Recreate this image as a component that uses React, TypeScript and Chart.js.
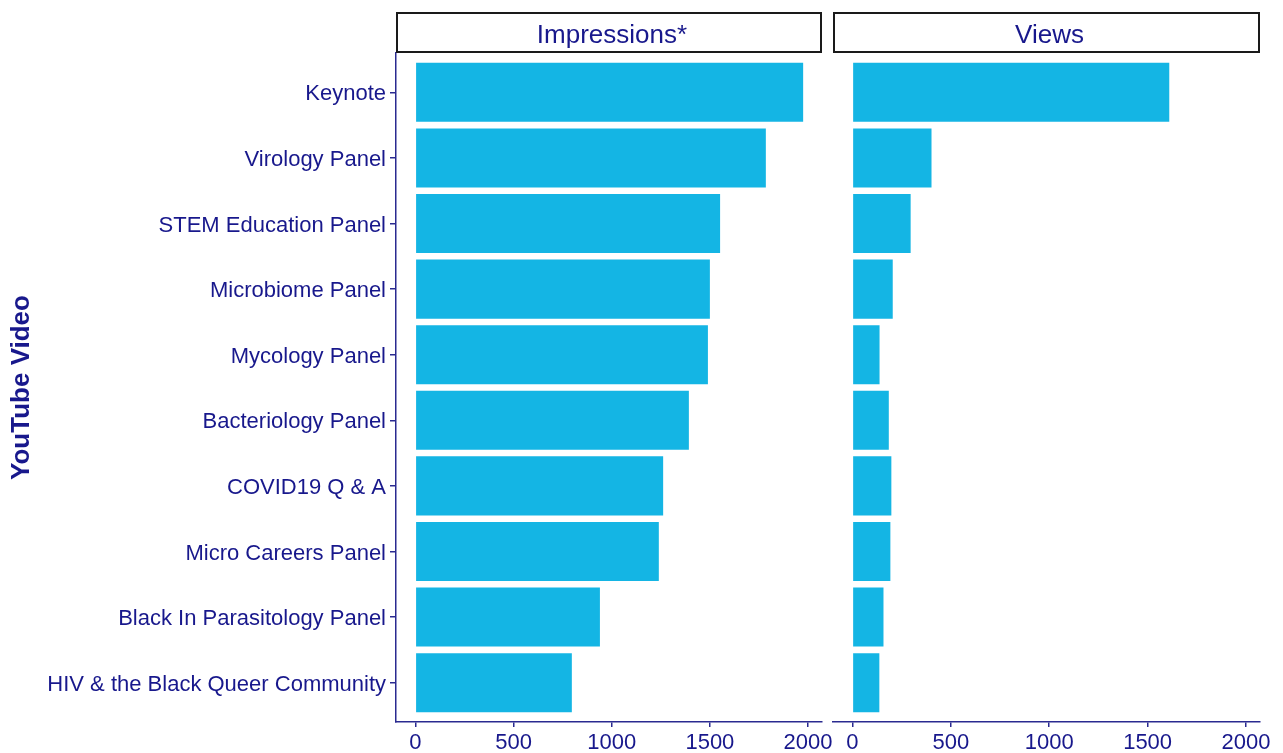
import React, { useEffect, useRef } from "react";
import { Chart, registerables } from "chart.js";

Chart.register(...registerables);

const videos = [
  "Keynote",
  "Virology Panel",
  "STEM Education Panel",
  "Microbiome Panel",
  "Mycology Panel",
  "Bacteriology Panel",
  "COVID19 Q & A",
  "Micro Careers Panel",
  "Black In Parasitology Panel",
  "HIV & the Black Queer Community",
];
const impressions = [1975, 1785, 1552, 1500, 1490, 1393, 1262, 1240, 940, 797];
const views = [1610, 402, 296, 205, 138, 185, 198, 193, 158, 137];
const panelTitles = ["Impressions*", "Views"];
const xTicks = [0, 500, 1000, 1500, 2000];
const yTitle = "YouTube Video";

const NAVY = "#18188c";
const AXIS = "#2a2a90";
const BAR = "#14b5e4";
const FONT = "'Liberation Sans', Arial, sans-serif";

const X_MIN = -98.5;
const X_MAX = 2071;
const Y_MIN = -0.6;
const Y_MAX = videos.length - 1 + 0.6;

const stripPlugin = {
  id: "facetStrip",
  afterDraw(chart: any, _args: any, opts: any) {
    const { ctx, chartArea } = chart;
    ctx.save();
    const x = chartArea.left;
    const w = chartArea.right - chartArea.left;
    ctx.fillStyle = "#ffffff";
    ctx.fillRect(x, 12, w, 40);
    ctx.strokeStyle = "#1a1a1a";
    ctx.lineWidth = 2;
    ctx.strokeRect(x + 1, 13, w - 2, 39);
    ctx.fillStyle = NAVY;
    ctx.font = `26px ${FONT}`;
    ctx.textAlign = "center";
    ctx.textBaseline = "alphabetic";
    ctx.fillText(opts.text, x + w / 2 + 3, 43);
    ctx.restore();
  },
};

function makeConfig(values: number[], title: string, showY: boolean): any {
  return {
    type: "bar",
    data: {
      datasets: [
        {
          data: values.map((v, i) => ({ x: v, y: i })),
          backgroundColor: BAR,
          borderWidth: 0,
          barPercentage: 0.9,
          categoryPercentage: 1,
        },
      ],
    },
    options: {
      indexAxis: "y",
      responsive: false,
      maintainAspectRatio: false,
      animation: false,
      layout: {
        padding: showY
          ? { top: 53, left: 0, right: 28, bottom: 0 }
          : { top: 53, left: 7, right: 23, bottom: 0 },
      },
      plugins: {
        legend: { display: false },
        tooltip: { enabled: false },
        facetStrip: { text: title },
      },
      scales: {
        x: {
          type: "linear",
          min: X_MIN,
          max: X_MAX,
          offset: false,
          afterBuildTicks: (scale: any) => {
            scale.ticks = xTicks.map((v) => ({ value: v }));
          },
          afterFit: (scale: any) => {
            scale.height = 31;
          },
          grid: {
            offset: false,
            drawOnChartArea: false,
            drawTicks: true,
            tickLength: 5,
            color: AXIS,
            lineWidth: 1.5,
          },
          border: { display: true, color: AXIS, width: 1.5 },
          ticks: {
            color: NAVY,
            font: { family: FONT, size: 22 },
            padding: 3,
            maxRotation: 0,
            autoSkip: false,
            callback: (v: any) => String(v),
          },
        },
        y: {
          type: "linear",
          display: showY,
          reverse: true,
          offset: false,
          min: Y_MIN,
          max: Y_MAX,
          afterBuildTicks: (scale: any) => {
            scale.ticks = videos.map((_, i) => ({ value: i }));
          },
          afterFit: (scale: any) => {
            if (showY) scale.width = 396;
          },
          grid: {
            offset: false,
            drawOnChartArea: false,
            drawTicks: true,
            tickLength: 6,
            color: AXIS,
            lineWidth: 1.5,
          },
          border: { display: true, color: AXIS, width: 1.5 },
          ticks: {
            color: NAVY,
            font: { family: FONT, size: 22 },
            padding: 4,
            labelOffset: 2,
            autoSkip: false,
            callback: (v: any) => videos[Math.round(Number(v))] ?? "",
          },
          title: {
            display: true,
            text: yTitle,
            color: NAVY,
            font: { family: FONT, size: 26, weight: "bold" },
            padding: { top: 6, bottom: 0 },
          },
        },
      },
    },
    plugins: [stripPlugin],
  };
}

export default function App() {
  const leftRef = useRef<HTMLCanvasElement | null>(null);
  const rightRef = useRef<HTMLCanvasElement | null>(null);

  useEffect(() => {
    const left = new Chart(leftRef.current as HTMLCanvasElement, makeConfig(impressions, panelTitles[0], true));
    const right = new Chart(rightRef.current as HTMLCanvasElement, makeConfig(views, panelTitles[1], false));
    return () => {
      left.destroy();
      right.destroy();
    };
  }, []);

  return (
    <div
      style={{
        position: "absolute",
        left: 0,
        top: 0,
        width: 1283,
        height: 753,
        background: "#ffffff",
        overflow: "hidden",
      }}
    >
      <canvas
        ref={leftRef}
        width={850}
        height={753}
        style={{ position: "absolute", left: 0, top: 0, width: 850, height: 753 }}
      />
      <canvas
        ref={rightRef}
        width={457}
        height={753}
        style={{ position: "absolute", left: 826, top: 0, width: 457, height: 753 }}
      />
    </div>
  );
}
